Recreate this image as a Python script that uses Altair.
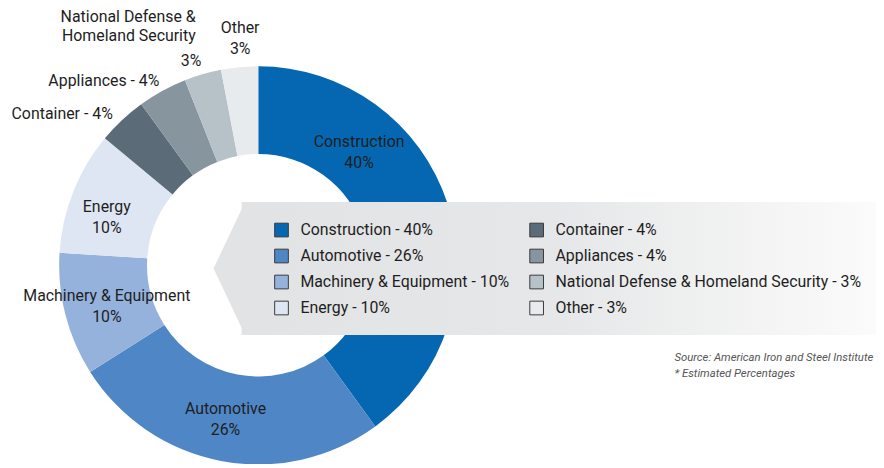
import altair as alt
import pandas as pd

# ---- data ----
categories = ["Construction", "Automotive", "Machinery & Equipment", "Energy",
              "Container", "Appliances", "National Defense & Homeland Security", "Other"]
values = [40, 26, 10, 10, 4, 4, 3, 3]
colors = ["#0567b2", "#4f87c6", "#95b2dd", "#dfe6f3",
          "#5b6c78", "#87959f", "#b6c1c8", "#e8ebee"]

# donut labels (text, angular position in % of circle, radius in px)
label_text = ["Construction\n40%", "Automotive\n26%", "Machinery & Equipment\n10%", "Energy\n10%",
              "Container - 4%", "Appliances - 4%", "3%", "Other\n3%"]
label_pos = [11.63, 53.33, 70.77, 79.85, 85.44, 88.92, 94.95, 98.73]
label_r = [152.1, 158.8, 158.0, 159.9, 249.2, 242.4, 216.8, 228.7]
natdef_text = ["National Defense &\nHomeland Security"]
natdef_pos = [95.92]
natdef_r = [248.6]

legend_col = [0, 0, 0, 0, 1, 1, 1, 1]
legend_row = [0, 1, 2, 3, 0, 1, 2, 3]

source_text = ["Source: American Iron and Steel Institute\n* Estimated Percentages"]

# ---- layout ----
CX, CY = 252, 257.5
FONT = "Roboto"
TXT = "#1e1e1e"

df = pd.DataFrame({"category": categories, "value": values, "idx": list(range(len(values)))})
df["ltext"] = [f"{c} - {v}%" for c, v in zip(categories, values)]
df["col"] = legend_col
df["row"] = legend_row

lab = pd.DataFrame({"text": label_text, "pos": label_pos, "r": label_r})
lab["n"] = [t.count("\n") + 1 for t in label_text]
lab2 = pd.DataFrame({"text": natdef_text, "pos": natdef_pos, "r": natdef_r})
one = pd.DataFrame({"k": [0]})
src = pd.DataFrame({"text": source_text})

color_scale = alt.Scale(domain=categories, range=colors)
theta_scale = alt.Scale(domain=[0, 100])
r_scale = alt.Scale(type="linear", domain=[0, 300], range=[0, 300])

donut = alt.Chart(df).mark_arc(innerRadius=112, outerRadius=200.5).encode(
    theta=alt.Theta("value:Q", stack=True, scale=theta_scale),
    color=alt.Color("category:N", scale=color_scale, legend=None),
    order=alt.Order("idx:Q"),
    x=alt.value(CX), y=alt.value(CY),
)


def label_layer(data, align, dy, lh, flt=None):
    c = alt.Chart(data)
    if flt is not None:
        c = c.transform_filter(flt)
    return c.mark_text(
        font=FONT, fontSize=16, color=TXT, lineBreak="\n", lineHeight=lh,
        align=align, baseline="middle", dy=dy
    ).encode(
        theta=alt.Theta("pos:Q", scale=theta_scale, stack=None),
        radius=alt.Radius("r:Q", scale=r_scale),
        text="text:N",
        x=alt.value(CX), y=alt.value(CY),
    )


labels_1 = label_layer(lab, "center", 0, 21, alt.datum.n == 1)
labels_2 = label_layer(lab, "center", -10.5, 21, alt.datum.n == 2)
labels_nd = label_layer(lab2, "right", -10, 20)

grad = alt.LinearGradient(
    gradient="linear",
    stops=[alt.GradientStop(color="#e2e3e4", offset=0),
           alt.GradientStop(color="#e6e7e8", offset=0.5),
           alt.GradientStop(color="#fbfbfb", offset=1)],
    x1=0, x2=1, y1=0, y2=0,
)

panel = alt.Chart(one).mark_rect(fill=grad).encode(
    x=alt.value(235.3), x2=alt.value(874), y=alt.value(193.7), y2=alt.value(327.7)
)

tip = alt.Chart(one).mark_point(
    shape="M0.05,-1L-0.4224,0L0.05,1Z", size=17956, filled=True,
    fill="#e2e3e4", opacity=1, strokeWidth=0
).encode(x=alt.value(235.3), y=alt.value(260.7))

xs = alt.Scale(domain=[0, 1], range=[275.4, 532.3])
ys = alt.Scale(domain=[0, 3], range=[222, 300.5])

leg_sq = alt.Chart(df).mark_square(size=190, stroke="#3a3a3a", strokeWidth=1, opacity=1).encode(
    x=alt.X("col:Q", scale=xs, axis=None),
    y=alt.Y("row:Q", scale=ys, axis=None),
    color=alt.Color("category:N", scale=color_scale, legend=None),
)

leg_tx = alt.Chart(df).mark_text(
    font=FONT, fontSize=16, color=TXT, align="left", baseline="middle", dx=19
).encode(
    x=alt.X("col:Q", scale=xs, axis=None),
    y=alt.Y("row:Q", scale=ys, axis=None),
    text="ltext:N",
)

source = alt.Chart(src).mark_text(
    font=FONT, fontSize=11.4, fontStyle="italic", color="#555555", lineBreak="\n",
    lineHeight=16.5, align="left", baseline="middle"
).encode(x=alt.value(671), y=alt.value(350.5), text="text:N")

chart = alt.layer(donut, labels_1, labels_2, labels_nd, panel, tip, leg_sq, leg_tx, source).properties(
    width=874, height=456, padding=0, autosize="none"
).configure_view(stroke="transparent")

chart.save("out.html", embed_options={"renderer": "svg", "actions": False})
